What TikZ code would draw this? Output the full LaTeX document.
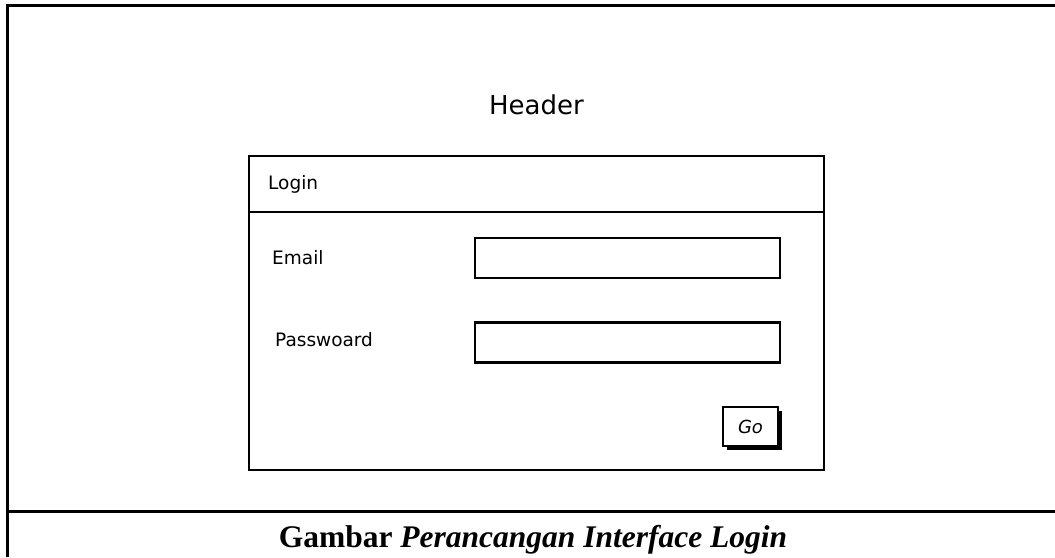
\documentclass[tikz,border=0pt]{standalone}
\usepackage{fontspec}
\usepackage{tikz}
\usetikzlibrary{positioning,shadows}
\newfontfamily\sketchfont{DejaVu Sans}
\newfontfamily\captionfont{Liberation Serif}
\tikzstyle{frame} = [
line width=3pt,
draw=black
]
\tikzstyle{mockbox} = [
rectangle,
line width=2.4pt,
draw=black,
inner sep=0pt
]
\tikzstyle{field} = [
rectangle,
line width=2.4pt,
draw=black,
minimum width=305pt,
minimum height=40pt,
inner sep=0pt
]
\tikzstyle{label} = [
font=\sketchfont\fontsize{18.5}{22}\selectfont,
inner sep=0pt
]
\tikzstyle{gobutton} = [
rectangle,
line width=2.4pt,
draw=black,
fill=white,
minimum width=55pt,
minimum height=39pt,
font=\sketchfont\itshape\fontsize{18}{20}\selectfont,
drop shadow={shadow xshift=4pt,shadow yshift=-4pt,fill=black,opacity=1}
]

\begin{document}
\begin{tikzpicture}[x=1pt,y=-1pt]
	\useasboundingbox (0,0) rectangle (1055,557);
	%Frame
	\coordinate (fa) at (7,557);
	\coordinate (fb) at (7,5);
	\coordinate (fc) at (1055,5);
	\coordinate (fd) at (7,511);
	\coordinate (fe) at (1055,511);
	\draw[frame] (fa) -- (fb) -- (fc);
	\draw[frame] (fd) -- (fe);
	%Nodes
	\node[mockbox,minimum width=575pt,minimum height=314pt] (loginbox) at (536.5,313) {};
	\node[mockbox,minimum width=575pt,minimum height=56pt,anchor=north] (titlebar) at (loginbox.north) {};
	\node[font=\sketchfont\fontsize{26}{30}\selectfont,inner sep=0pt,above=40pt of titlebar] (header) {Header};
	\node[label,anchor=west] (login) at (268,184) {Login};
	\node[field] (emailfield) at (627.5,258) {};
	\node[field,below=42pt of emailfield] (pwdfield) {};
	\node[label,anchor=west] (email) at (272,258) {Email};
	\node[label,anchor=west] (pwd) at (275,340) {Passwoard};
	\node[gobutton] (go) at (750.5,426.5) {Go};
	\node[font=\captionfont\bfseries\fontsize{31.5}{36}\selectfont,anchor=base,inner sep=0pt] (caption) at (533,547) {Gambar \textit{Perancangan Interface Login}};
\end{tikzpicture}
\end{document}
